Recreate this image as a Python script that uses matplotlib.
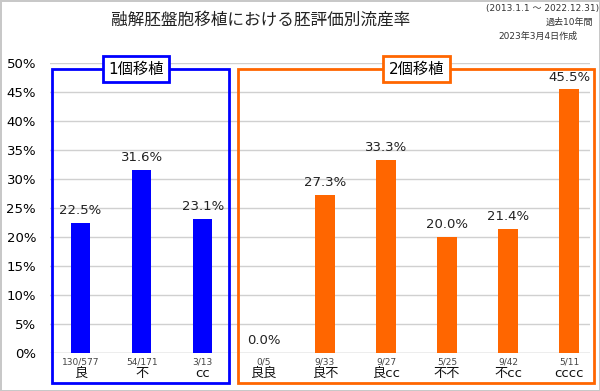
import matplotlib
matplotlib.use("Agg")
import matplotlib.pyplot as plt
from matplotlib.patches import Rectangle

plt.rcParams['font.family'] = ['DejaVu Sans', 'Noto Sans CJK JP']

categories = ["良", "不", "cc", "良良", "良不", "良cc", "不不", "不cc", "cccc"]
rates = [22.5, 31.6, 23.1, 0.0, 27.3, 33.3, 20.0, 21.4, 45.5]
counts = ["130/577", "54/171", "3/13", "0/5", "9/33", "9/27", "5/25", "9/42", "5/11"]
groups = ["1個移植", "2個移植"]
blue = "#0000FF"
orange = "#FF6600"
colors = [blue] * 3 + [orange] * 6

fig = plt.figure(figsize=(6, 3.91), dpi=100)
fig.patch.set_edgecolor("#c8c8c8")
fig.patch.set_linewidth(2)
ax = fig.add_axes([50/600, 38/391, 540/600, 290/391])

x = list(range(len(categories)))
ax.bar(x, [r/100 for r in rates], width=0.32, color=colors, zorder=3)
for i, r in enumerate(rates):
    ax.annotate(f"{r:.1f}%", (i, r/100), xytext=(0, 4), textcoords="offset points",
                ha="center", va="bottom", fontsize=9.5, color="#222222")
    ax.annotate(counts[i], (i, 0), xytext=(0, -3), textcoords="offset points",
                ha="center", va="top", fontsize=6.5, color="#444444")
    ax.annotate(categories[i], (i, 0), xytext=(0, -10), textcoords="offset points",
                ha="center", va="top", fontsize=9.5, color="#111111")

ax.set_xlim(-0.5, 8.34)
ax.set_ylim(0, 0.5)
ax.set_yticks([i*0.05 for i in range(11)])
ax.set_yticklabels([f"{i*5}%" for i in range(11)], fontsize=9.5)
ax.yaxis.set_tick_params(length=0, pad=10)
ax.set_xticks([])
ax.grid(axis="y", color="#d0d0d0", lw=1, zorder=0)
for s in ax.spines.values():
    s.set_visible(False)
ax.axhline(0, color="#d0d0d0", lw=1, zorder=1)

# group frames
for (x0, x1), col, lab, lx in [((-0.46, 2.43), blue, groups[0], 0.91),
                               ((2.58, 8.41), orange, groups[1], 5.5)]:
    ax.add_patch(Rectangle((x0, -0.0517), x1 - x0, 0.0517 + 0.4897, fill=False,
                           ec=col, lw=2, clip_on=False, zorder=4))
    ax.text(lx, 0.4897, lab, ha="center", va="center", fontsize=11, zorder=5,
            bbox=dict(boxstyle="square,pad=0.35", fc="white", ec=col, lw=2))

fig.text(261/600, 1 - 20/391, "融解胚盤胞移植における胚評価別流産率", ha="center",
         va="center", fontsize=12, color="#222222")
fig.text(599/600, 1 - 8/391, "(2013.1.1 ～ 2022.12.31)", ha="right", va="center",
         fontsize=6.5, color="#333333")
fig.text(593/600, 1 - 22/391, "過去10年間", ha="right", va="center",
         fontsize=6.5, color="#333333")
fig.text(577/600, 1 - 36/391, "2023年3月4日作成", ha="right", va="center",
         fontsize=6.5, color="#333333")

fig.savefig("out.png", dpi=100)
